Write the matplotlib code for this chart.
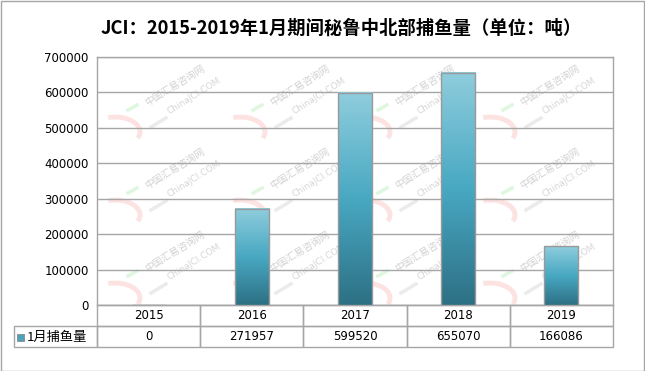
import numpy as np
import matplotlib
matplotlib.use("Agg")
import matplotlib.pyplot as plt
from matplotlib.colors import LinearSegmentedColormap
from matplotlib.patches import Rectangle, Arc
from matplotlib.lines import Line2D

plt.rcParams['font.family'] = ['Noto Sans CJK SC', 'DejaVu Sans']

title = "JCI：2015-2019年1月期间秘鲁中北部捕鱼量（单位：吨）"
years = ["2015", "2016", "2017", "2018", "2019"]
catch = [0, 271957, 599520, 655070, 166086]
series_name = "1月捕鱼量"
yticks = [0, 100000, 200000, 300000, 400000, 500000, 600000, 700000]

W, H = 645, 371
fig = plt.figure(figsize=(W / 100, H / 100), dpi=100)
fig.patches.append(Rectangle((0.5 / W, 0.5 / H), 1 - 1.5 / W, 1 - 1.5 / H,
                             transform=fig.transFigure, fill=False,
                             edgecolor="#a6a6a6", lw=1, zorder=5))

def fx(px):
    return px / W

def fy(py):
    return 1 - py / H

# watermarks (behind the plot)
for yc in [85, 168, 251]:
    for xc in [175, 300, 425, 550]:
        fig.text(fx(xc), fy(yc), "中国汇易咨询网", fontsize=7, color="#d2d2d2",
                 rotation=32, ha="center", va="center", zorder=-2)
        fig.text(fx(xc + 19), fy(yc + 11), "ChinaJCI.COM", fontsize=6.5,
                 color="#d6d6d6", rotation=32, ha="center", va="center", zorder=-2,
                 family="DejaVu Sans")
        fig.patches.append(Arc((fx(xc - 60), fy(yc + 47)), 50 / W, 30 / H,
                               theta1=-25, theta2=105, transform=fig.transFigure,
                               color="#fde2e2", lw=3.5, zorder=-2))
        fig.lines.append(Line2D([fx(xc - 47), fx(xc - 38)], [fy(yc + 25), fy(yc + 20)],
                                transform=fig.transFigure, color="#dff6df", lw=2.5,
                                zorder=-2))
        fig.lines.append(Line2D([fx(xc - 24), fx(xc - 9)], [fy(yc + 42), fy(yc + 33)],
                                transform=fig.transFigure, color="#ebebeb", lw=2.5,
                                zorder=-2))

# plot area in pixels
L, R, T, B = 97, 613, 57, 305
ax = fig.add_axes([L / W, 1 - B / H, (R - L) / W, (B - T) / H])
ax.set_facecolor("none")

grid_c = "#a6a6a6"
cmap = LinearSegmentedColormap.from_list("bar", ["#2d7084", "#48a8c2", "#8fcddd"])
grad = np.linspace(0, 1, 256).reshape(-1, 1)
bw = 0.33
for i, v in enumerate(catch):
    if v <= 0:
        continue
    ax.imshow(grad, extent=[i - bw / 2, i + bw / 2, 0, v], origin="lower",
              aspect="auto", cmap=cmap, zorder=3)
ax.bar(range(len(years)), catch, width=bw, fill=False, edgecolor="#999999",
       lw=1, zorder=4)

ax.set_xlim(-0.5, len(years) - 0.5)
ax.set_ylim(0, 700000)
ax.set_yticks(yticks)
ax.set_yticklabels([str(t) for t in yticks], fontsize=8.5, family="DejaVu Sans")
ax.set_xticks([])
ax.yaxis.grid(True, color=grid_c, lw=1, zorder=0)
ax.tick_params(axis="y", length=0, pad=6, colors="#000000")
for s in ax.spines.values():
    s.set_color(grid_c)
    s.set_linewidth(1)

# data table
row_h = 21
tbl_left = 14
cells = [[""] + years, [""] + [str(v) for v in catch]]
total_w = R - tbl_left
col_w = [(L - tbl_left) / total_w] + [(R - L) / 5 / total_w] * 5
tb = ax.table(cellText=cells, colWidths=col_w, cellLoc="center",
              bbox=[(tbl_left - L) / (R - L), -2 * row_h / (B - T),
                    total_w / (R - L), 2 * row_h / (B - T)])
tb.auto_set_font_size(False)
for (r, c), cell in tb.get_celld().items():
    cell.set_edgecolor(grid_c)
    cell.set_linewidth(1)
    cell.get_text().set_fontsize(8.5)
    cell.get_text().set_family("DejaVu Sans")
    cell.set_facecolor("none")
tb[(0, 0)].visible_edges = ""

# legend key inside row label cell
ax.add_patch(Rectangle(((17 - L) / (R - L), -(341 - B) / (B - T)), 7 / (R - L),
                       7 / (B - T), transform=ax.transAxes, clip_on=False,
                       facecolor="#4aa3bb", edgecolor="#888888", lw=0.6))
ax.text((27 - L) / (R - L), -(337 - B) / (B - T), series_name, transform=ax.transAxes,
        fontsize=9.5, ha="left", va="center")

fig.text(fx(341), fy(28), title, fontsize=13.2, fontweight="bold",
         ha="center", va="center")

fig.savefig("out.png", dpi=100)
